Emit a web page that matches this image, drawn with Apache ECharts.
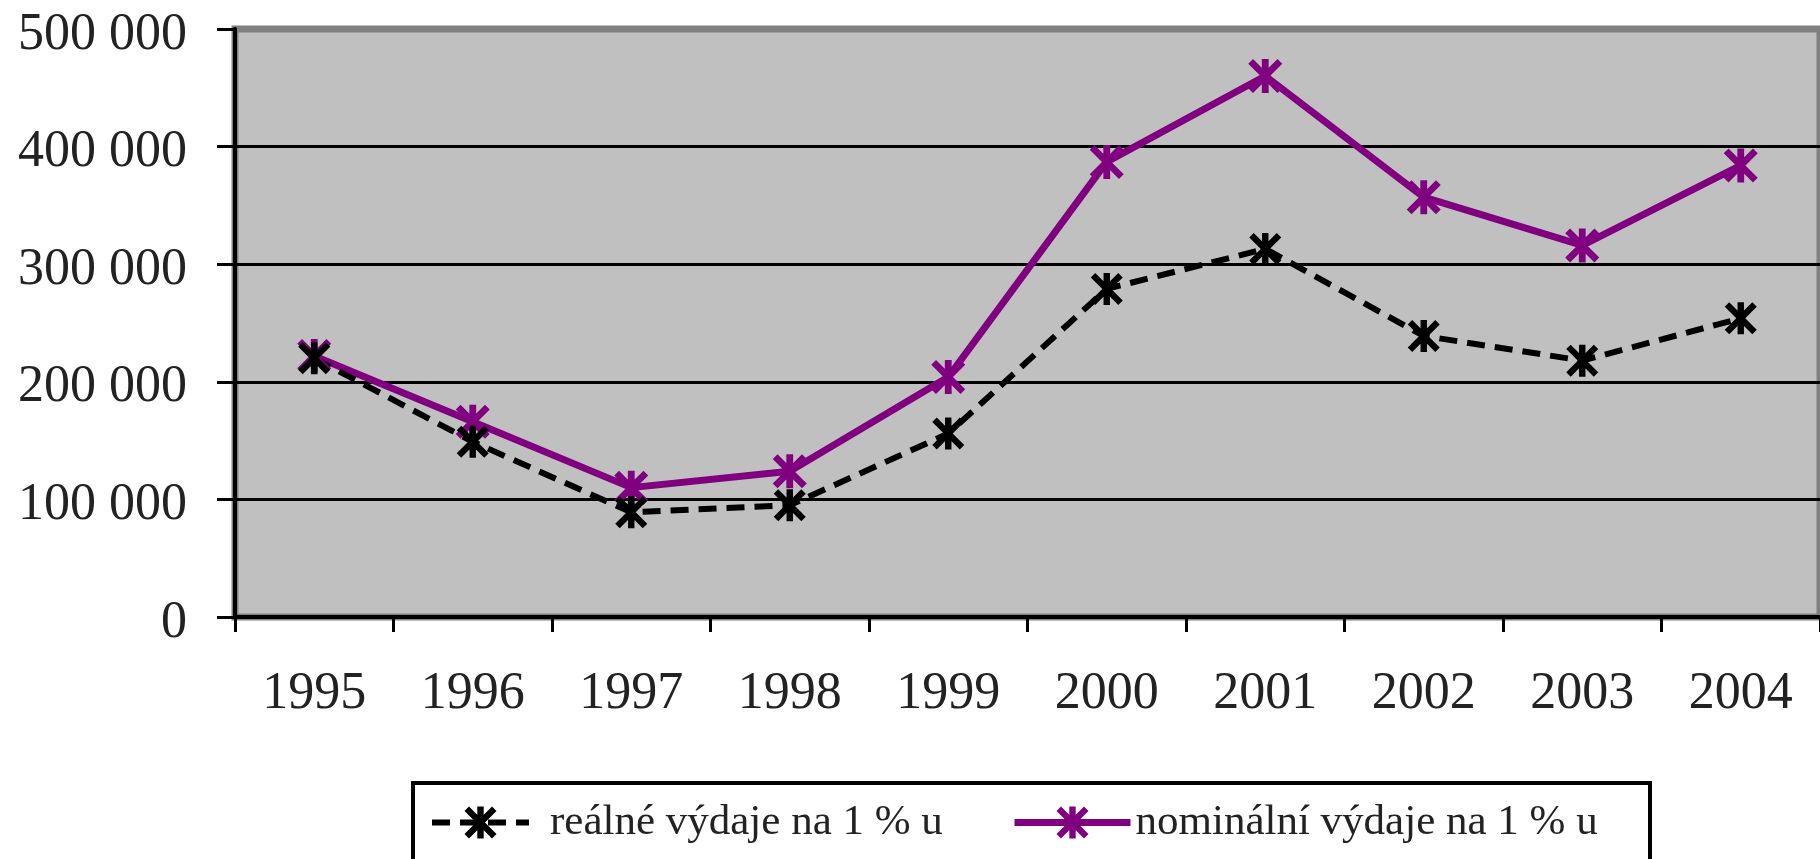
<!DOCTYPE html>
<html>
<head>
<meta charset="utf-8">
<script src="https://cdn.jsdelivr.net/npm/echarts@6/dist/echarts.min.js"></script>
<style>
  html, body { margin: 0; padding: 0; background: #fff; }
  #chart { width: 1820px; height: 859px; }
</style>
</head>
<body>
<div id="chart"></div>
<script>
// roky a hodnoty
var years = ['1995', '1996', '1997', '1998', '1999', '2000', '2001', '2002', '2003', '2004'];
var realne = [220000, 149000, 89000, 95000, 156000, 279000, 313000, 239000, 218000, 254000];
var nominalni = [222000, 166000, 110000, 124000, 204000, 387000, 460000, 357000, 316000, 384000];
var yLabels = ['0', '100 000', '200 000', '300 000', '400 000', '500 000'];

var nameReal = 'reálné výdaje na 1 % u';
var nameNom = 'nominální výdaje na 1 % u';

// hvezdicka (x + svisla cara)
var star = 'path://M4,0L6,0L6,10L4,10Z M0,1.4L1.4,0L10,8.6L8.6,10Z M8.6,0L10,1.4L1.4,10L0,8.6Z';
var font = '"Liberation Serif", "Times New Roman", serif';

var chartDom = document.getElementById('chart');
var myChart = echarts.init(chartDom);
var option = {
  animation: false,
  grid: {
    left: 235,
    right: -15,
    top: 29,
    bottom: 242,
    show: true,
    backgroundColor: '#C0C0C0',
    borderColor: '#808080',
    borderWidth: 7
  },
  legend: [
    {
      data: [nameReal],
      left: 429,
      top: 801,
      padding: 0,
      itemWidth: 97,
      itemHeight: 40,
      lineStyle: { width: 6 },
      textStyle: { fontFamily: font, fontSize: 43, color: '#222', padding: [0, 0, 0, 16] }
    },
    {
      data: [nameNom],
      left: 1011,
      top: 801,
      padding: 0,
      itemWidth: 116,
      itemHeight: 40,
      lineStyle: { width: 7 },
      textStyle: { fontFamily: font, fontSize: 43, color: '#222' }
    }
  ],
  graphic: [
    {
      type: 'rect',
      z: -1,
      shape: { x: 413, y: 783, width: 1237, height: 120 },
      style: { fill: '#fff', stroke: '#000', lineWidth: 4 }
    }
  ],
  xAxis: {
    type: 'category',
    data: years,
    boundaryGap: true,
    axisLine: { lineStyle: { color: '#000', width: 4 } },
    axisTick: { show: true, length: 15, lineStyle: { color: '#000', width: 3 } },
    axisLabel: { fontFamily: font, fontSize: 52, color: '#222', margin: 51 },
    splitLine: { show: false }
  },
  yAxis: {
    type: 'value',
    min: 0,
    max: 500000,
    interval: 100000,
    axisLine: { show: true, lineStyle: { color: '#000', width: 4 } },
    axisTick: { show: true, length: 18, lineStyle: { color: '#000', width: 3 } },
    axisLabel: {
      margin: 48,
      formatter: function (v) { return '{a|' + yLabels[Math.round(v / 100000)] + '}'; },
      rich: {
        a: { fontFamily: font, fontSize: 52, color: '#222', padding: [12, 0, 0, 0] }
      }
    },
    splitLine: { show: true, showMaxLine: false, lineStyle: { color: '#000', width: 3 } }
  },
  series: [
    {
      name: nameNom,
      type: 'line',
      data: nominalni,
      symbol: star,
      symbolSize: 34,
      itemStyle: { color: '#800080' },
      lineStyle: { color: '#800080', width: 7 }
    },
    {
      name: nameReal,
      type: 'line',
      data: realne,
      symbol: star,
      symbolSize: 32,
      itemStyle: { color: '#000' },
      lineStyle: { color: '#000', width: 6, type: [18, 10] }
    }
  ]
};
option && myChart.setOption(option);
</script>
</body>
</html>
